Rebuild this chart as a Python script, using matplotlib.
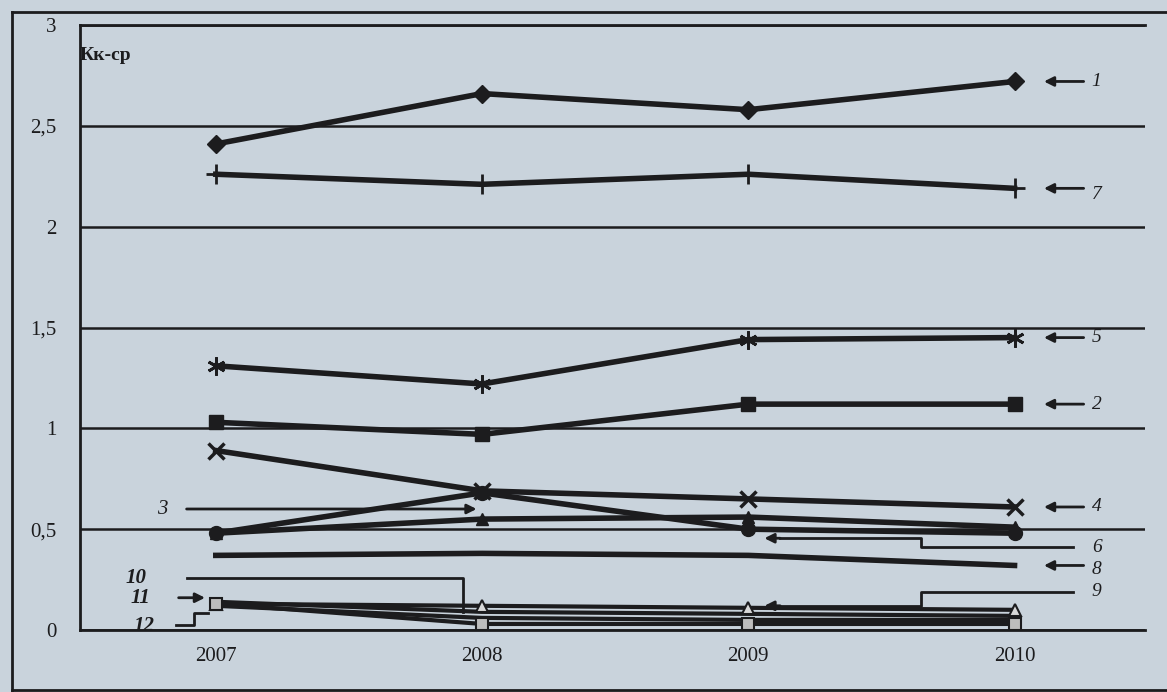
import numpy as np
import matplotlib.pyplot as plt
from matplotlib.lines import Line2D

plt.rcParams['font.family'] = ['Liberation Serif', 'DejaVu Serif']

years = [2007, 2008, 2009, 2010]
s1 = [2.41, 2.66, 2.58, 2.72]
s7 = [2.26, 2.21, 2.26, 2.19]
s5 = [1.31, 1.22, 1.44, 1.45]
s2 = [1.03, 0.97, 1.12, 1.12]
s4 = [0.89, 0.69, 0.65, 0.61]
s6 = [0.48, 0.68, 0.50, 0.48]
s3 = [0.48, 0.55, 0.56, 0.51]
s8 = [0.37, 0.38, 0.37, 0.32]
s9 = [0.13, 0.12, 0.11, 0.10]
s10 = [0.14, 0.09, 0.08, 0.07]
s11 = [0.12, 0.06, 0.05, 0.05]
s12 = [0.13, 0.03, 0.03, 0.03]
yticks = [0, 0.5, 1, 1.5, 2, 2.5, 3]
ytick_labels = ['0', '0,5', '1', '1,5', '2', '2,5', '3']

bg = '#c9d3dc'
ink = '#1c1c1e'

fig = plt.figure(figsize=(11.67, 6.92), dpi=100, facecolor=bg)
ax = fig.add_axes([80/1167, 1-630/692, (1145-80)/1167, (630-25)/692])
ax.set_facecolor(bg)

# рамка рисунка
fig.add_artist(Line2D([12/1167, 12/1167], [0, 1-12/692], color=ink, lw=2))
fig.add_artist(Line2D([12/1167, 1], [1-12/692, 1-12/692], color=ink, lw=2))
fig.add_artist(Line2D([12/1167, 1], [2/692, 2/692], color=ink, lw=2))

lw = 4
ax.plot(years, s1, color=ink, lw=lw, marker='D', ms=9)
ax.plot(years, s7, color=ink, lw=lw, marker='+', ms=14, mew=2)
ax.plot(years, s5, color=ink, lw=lw, marker=(6, 2, 0), ms=13, mew=2)
ax.plot(years, s2, color=ink, lw=lw, marker='s', ms=10)
ax.plot(years, s4, color=ink, lw=lw, marker='x', ms=12, mew=2.5)
ax.plot(years, s6, color=ink, lw=lw, marker='o', ms=10)
ax.plot(years, s3, color=ink, lw=lw, marker='^', ms=9)
ax.plot(years, s8, color=ink, lw=lw)
ax.plot(years, s10, color=ink, lw=3)
ax.plot(years, s11, color=ink, lw=3)
ax.plot(years, s9, color=ink, lw=3, marker='^', ms=9, mfc='#d8d8d8', mec=ink, mew=1.5)
ax.plot(years, s12, color=ink, lw=3, marker='s', ms=8, mfc='#bdbdbd', mec=ink, mew=1.5)

ax.set_xlim(2006.49, 2010.49)
ax.set_ylim(0, 3)
ax.set_yticks(yticks)
ax.set_yticklabels(ytick_labels)
ax.set_xticks(years)
ax.set_xticklabels([str(y) for y in years])
ax.tick_params(length=0, labelsize=15, colors=ink, pad=12)
ax.tick_params(axis='y', pad=17)
ax.grid(axis='y', color=ink, lw=1.8)
ax.grid(axis='x', visible=False)
for side in ['top', 'bottom', 'left']:
    ax.spines[side].set_color(ink)
    ax.spines[side].set_linewidth(2)
ax.spines['right'].set_visible(False)
ax.set_axisbelow(True)

ax.text(2006.49, 2.85, 'Кк-ср', fontsize=14, fontweight='bold', color=ink, va='center', ha='left')

arr = dict(arrowstyle='-|>', color=ink, lw=2, mutation_scale=14)
lab = dict(fontsize=14, style='italic', color=ink, va='center', ha='left')

# подписи справа
for name, s, dy in [('1', s1, 0), ('7', s7, -0.03), ('5', s5, 0), ('2', s2, 0), ('4', s4, 0), ('8', s8, -0.02)]:
    ax.annotate('', xy=(2010.1, s[-1]), xytext=(2010.27, s[-1]), arrowprops=arr)
    ax.text(2010.29, s[-1] + dy, name, **lab)

# 6
ax.plot([2010.22, 2009.65, 2009.65, 2009.12], [0.41, 0.41, 0.455, 0.455], color=ink, lw=2)
ax.annotate('', xy=(2009.05, 0.455), xytext=(2009.13, 0.455), arrowprops=arr)
ax.text(2010.29, 0.41, '6', **lab)

# 9
ax.plot([2010.22, 2009.65, 2009.65, 2009.12], [0.19, 0.19, 0.12, 0.12], color=ink, lw=2)
ax.annotate('', xy=(2009.05, 0.12), xytext=(2009.13, 0.12), arrowprops=arr)
ax.text(2010.29, 0.19, '9', **lab)

# 3
ax.annotate('', xy=(2007.99, 0.60), xytext=(2006.88, 0.60), arrowprops=arr)
ax.text(2006.78, 0.60, '3', fontsize=15, style='italic', color=ink, va='center', ha='left')

bold_lab = dict(fontsize=15, style='italic', fontweight='bold', color=ink, va='center', ha='left')
# 10
ax.plot([2006.89, 2007.93, 2007.93], [0.26, 0.26, 0.09], color=ink, lw=2)
ax.text(2006.66, 0.26, '10', **bold_lab)

# 11
ax.annotate('', xy=(2006.97, 0.16), xytext=(2006.85, 0.16), arrowprops=arr)
ax.text(2006.68, 0.16, '11', **bold_lab)

# 12
ax.plot([2006.85, 2006.92, 2006.92, 2006.97], [0.025, 0.025, 0.085, 0.085], color=ink, lw=2)
ax.text(2006.69, 0.02, '12', **bold_lab)

fig.savefig('out.png', dpi=100, facecolor=bg)
